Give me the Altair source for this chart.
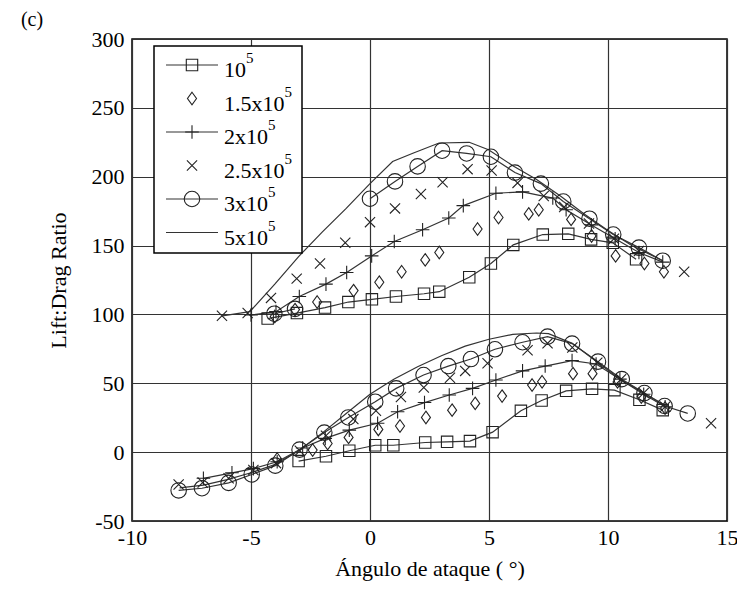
import altair as alt
import pandas as pd

# ---------------- data ----------------
series_keys = ["1e5", "1.5e5", "2e5", "2.5e5", "3e5", "5e5"]
legend_base = ["10", "1.5x10", "2x10", "2.5x10", "3x10", "5x10"]
legend_exp = ["5", "5", "5", "5", "5", "5"]
has_line = [True, False, True, False, True, True]
has_marker = [True, True, True, True, True, False]

# Re = 1e5 (squares, line)
s1_up_x = [-4.3, -3.07, -1.89, -0.91, 0.08, 1.09, 2.27, 2.91, 4.17, 5.08, 6.02, 7.26, 8.33, 9.29, 10.2, 11.18]
s1_up_y = [97, 101, 105, 109, 111, 113, 115, 116.5, 127, 137, 150.5, 158, 158.5, 154.5, 152, 140]
s1_lo_x = [-3.0, -1.85, -0.87, 0.22, 0.98, 2.32, 3.24, 4.2, 5.15, 6.34, 7.21, 8.24, 9.33, 10.27, 11.32, 12.3]
s1_lo_y = [-6.5, -3, 1, 5, 5, 7, 7.5, 8, 14.5, 30, 37.5, 44.5, 46, 45, 38, 30.5]

# Re = 1.5e5 (diamonds)
s2_up_x = [-4.0, -3.15, -2.22, -0.69, 0.39, 1.33, 2.32, 2.91, 4.52, 5.4, 6.67, 7.09, 8.45, 9.31, 10.32, 11.53, 12.35]
s2_up_y = [98.5, 103.5, 109, 117.3, 123.4, 131, 139.6, 145, 162, 170.4, 173, 176, 169, 157, 142.5, 137, 131]
s2_lo_x = [-3.9, -2.41, -1.78, -0.9, 0.35, 1.26, 2.35, 3.45, 4.42, 5.55, 6.81, 7.23, 8.53, 9.35, 10.4, 11.4, 12.4]
s2_lo_y = [-5, 1.5, 6.3, 10.7, 16.5, 19, 25.2, 30.5, 35.4, 40.7, 48.7, 51.1, 57, 57, 51, 40, 32]

# Re = 2e5 (plus, line)
s3_up_x = [-5.0, -3.95, -2.97, -1.85, -0.98, 0.07, 1.02, 2.21, 3.31, 3.92, 5.29, 6.41, 7.68, 8.24, 9.3, 10.3, 11.3, 12.3]
s3_up_y = [99.6, 102, 113, 122, 130.4, 142.5, 153, 161.5, 170, 179, 188, 189, 184.5, 176, 165, 155, 145, 138]
s3_lo_x = [-7.0, -5.8, -4.9, -3.9, -2.83, -1.88, -0.87, 0.32, 1.16, 2.29, 3.33, 4.31, 5.29, 6.41, 7.36, 8.49, 9.5, 10.5, 11.5, 12.4]
s3_lo_y = [-19, -15, -12, -7, 3, 10, 16, 21, 29.3, 36, 41.5, 46.3, 52.4, 59, 62.5, 66.5, 64, 53, 42, 33]

# Re = 2.5e5 (crosses)
s4_up_x = [-6.22, -5.14, -4.16, -3.08, -2.1, -1.04, 0.0, 1.05, 2.14, 3.05, 4.1, 5.11, 6.2, 7.3, 8.16, 9.2, 10.25, 11.3, 13.2]
s4_up_y = [99, 101, 112, 126, 137, 152, 167, 177, 187.5, 196, 205.5, 204.5, 195.5, 186, 178, 166, 155, 146, 131]
s4_lo_x = [-8.04, -7.03, -5.94, -4.9, -3.95, -2.95, -1.85, -0.7, 0.25, 1.3, 2.26, 3.36, 4.0, 4.94, 6.62, 7.46, 8.5, 9.55, 10.55, 11.5, 12.4, 14.33]
s4_lo_y = [-23.5, -22, -19, -13, -8, 1, 12, 24, 30, 40, 47, 54, 59, 64.5, 74, 79, 76, 65, 53, 43, 33, 21]

# Re = 3e5 (circles, line)
s5_upa_x = [-4.02, -3.15]
s5_upa_y = [100.5, 104]
s5_upb_x = [0.0, 1.05, 2.0, 3.03, 4.06, 5.08, 6.09, 7.18, 8.12, 9.22, 10.22, 11.3, 12.3]
s5_upb_y = [184, 196.6, 207.5, 218.9, 216.9, 214.5, 203, 195, 182, 169.5, 158, 148.5, 139]
s5_lo_x = [-8.04, -7.06, -5.94, -4.97, -3.98, -2.96, -1.92, -0.91, 0.22, 1.1, 2.25, 3.29, 4.24, 5.25, 6.41, 7.46, 8.49, 9.58, 10.58, 11.53, 12.38, 13.35]
s5_lo_y = [-27.8, -26.2, -22.3, -16.2, -9.8, 1.8, 14.2, 25.2, 36.6, 46.3, 56, 62.5, 67.6, 74.7, 79.8, 83.9, 78.8, 65.7, 53, 42.9, 33.5, 28.1]

# Re = 5e5 (line only)
s6_up_x = [-6.2, -5.05, -4, -3, -2, -1, 0, 0.95, 1.8, 2.9, 4.17, 4.98, 6, 7, 8, 9, 10, 11, 12.3]
s6_up_y = [99, 102, 122, 142, 160, 177, 195, 211, 217, 224.5, 225, 219.6, 208, 198, 186, 173, 161, 150, 139]
s6_lo_x = [-8, -7, -6, -5, -4, -3, -2, -1, 0, 1, 2, 3, 4, 5, 6, 7, 7.5, 8.5, 9.5, 10.5, 11.5, 12.4]
s6_lo_y = [-26, -24, -20, -15, -9, 1, 14, 28, 42, 53, 62, 70, 77, 82, 85.5, 86.5, 86, 79, 66, 53, 43, 34]

x_ticks = [-10, -5, 0, 5, 10, 15]
y_ticks = [-50, 0, 50, 100, 150, 200, 250, 300]

# ---------------- build tables ----------------
segments = [
    ("1e5", "up", s1_up_x, s1_up_y), ("1e5", "lo", s1_lo_x, s1_lo_y),
    ("1.5e5", "up", s2_up_x, s2_up_y), ("1.5e5", "lo", s2_lo_x, s2_lo_y),
    ("2e5", "up", s3_up_x, s3_up_y), ("2e5", "lo", s3_lo_x, s3_lo_y),
    ("2.5e5", "up", s4_up_x, s4_up_y), ("2.5e5", "lo", s4_lo_x, s4_lo_y),
    ("3e5", "upa", s5_upa_x, s5_upa_y), ("3e5", "upb", s5_upb_x, s5_upb_y),
    ("3e5", "lo", s5_lo_x, s5_lo_y),
    ("5e5", "up", s6_up_x, s6_up_y), ("5e5", "lo", s6_lo_x, s6_lo_y),
]
rows = []
for key, seg, xs_, ys_ in segments:
    i = series_keys.index(key)
    for xv, yv in zip(xs_, ys_):
        rows.append({"series": key, "seg": key + "_" + seg, "x": xv, "y": yv,
                     "line": has_line[i], "marker": has_marker[i]})
df = pd.DataFrame(rows)

X0, X1, Y0, Y1 = -10, 15, -50, 300
W, H = 595, 482

def px2x(p):
    return X0 + p * (X1 - X0) / W

def px2y(p):
    return Y1 - p * (Y1 - Y0) / H

FONT = "Liberation Serif"
INK = "#222222"

marker_keys = [k for k, m in zip(series_keys, has_marker) if m]
shape_scale = alt.Scale(
    domain=marker_keys,
    range=["square",
           "M0,-1L0.72,0L0,1L-0.72,0Z",
           "M-1,0L1,0M0,-1L0,1",
           "M-0.7,-0.7L0.7,0.7M-0.7,0.7L0.7,-0.7",
           "circle"])
size_scale = alt.Scale(domain=marker_keys, range=[130, 240, 150, 150, 215])

xs = alt.Scale(domain=[X0, X1], nice=False, zero=False)
ys = alt.Scale(domain=[Y0, Y1], nice=False, zero=False)

x_enc = alt.X("x:Q", scale=xs, axis=alt.Axis(
    values=x_ticks, grid=True, gridColor="#333333", gridWidth=1.2, ticks=False,
    domain=False, labelFont=FONT, labelFontSize=22, labelColor="black", labelPadding=6,
    labelFlush=False, labelExpr="'' + datum.value",
    title="Ángulo de ataque ( °)", titleFont=FONT, titleFontSize=22,
    titleFontWeight="normal", titleColor="black", titleY=47, titleBaseline="middle"))
y_enc = alt.Y("y:Q", scale=ys, axis=alt.Axis(
    values=y_ticks, grid=True, gridColor="#333333", gridWidth=1.2, ticks=False,
    domain=False, labelFont=FONT, labelFontSize=22, labelColor="black", labelPadding=8,
    labelFlush=False, labelExpr="'' + datum.value",
    title="Lift:Drag Ratio", titleFont=FONT, titleFontSize=22,
    titleFontWeight="normal", titleColor="black", titleAngle=270, titleX=-74, titleY=241,
    titleAlign="center", titleBaseline="middle"))

base = alt.Chart(df)
lines = base.transform_filter("datum.line").mark_line(
    color="#333333", strokeWidth=1.2).encode(
    x=x_enc, y=y_enc, detail="seg:N", order="x:Q")
points = base.transform_filter("datum.marker").mark_point(
    filled=False, color=INK, strokeWidth=1.1, opacity=1).encode(
    x=alt.X("x:Q", scale=xs), y=alt.Y("y:Q", scale=ys),
    shape=alt.Shape("series:N", scale=shape_scale, legend=None),
    size=alt.Size("series:N", scale=size_scale, legend=None))

# ---------------- manual legend (in data coordinates) ----------------
char_w = {"0": 11, "1": 11, "2": 11, "3": 11, "5": 11, ".": 5.5, "x": 11}
leg_rows = []
for i, key in enumerate(series_keys):
    row_px = 26 + i * 33.5
    width = sum(char_w.get(c, 11) for c in legend_base[i])
    leg_rows.append({
        "series": key, "label": legend_base[i], "exp": legend_exp[i],
        "line": has_line[i], "marker": has_marker[i],
        "ly": px2y(row_px), "lx0": px2x(34), "lx1": px2x(86),
        "sx": px2x(60), "tx": px2x(92), "ty": px2y(row_px + 5),
        "ex": px2x(92 + width), "ey": px2y(row_px - 7),
    })
leg = pd.DataFrame(leg_rows)
box = pd.DataFrame([{"x0": px2x(22), "x1": px2x(170), "y0": px2y(7), "y1": px2y(214)}])

leg_box = alt.Chart(box).mark_rect(fill="white", stroke="black", strokeWidth=1.5).encode(
    x=alt.X("x0:Q", scale=xs), x2="x1:Q", y=alt.Y("y0:Q", scale=ys), y2="y1:Q")
lb = alt.Chart(leg)
leg_lines = lb.transform_filter("datum.line").mark_rule(color="#333333", strokeWidth=1.2).encode(
    x=alt.X("lx0:Q", scale=xs), x2="lx1:Q", y=alt.Y("ly:Q", scale=ys))
leg_pts = lb.transform_filter("datum.marker").mark_point(
    filled=False, color=INK, strokeWidth=1.1, opacity=1).encode(
    x=alt.X("sx:Q", scale=xs), y=alt.Y("ly:Q", scale=ys),
    shape=alt.Shape("series:N", scale=shape_scale, legend=None),
    size=alt.Size("series:N", scale=size_scale, legend=None))
leg_txt = lb.mark_text(font=FONT, fontSize=22, align="left", baseline="middle", color="black").encode(
    x=alt.X("tx:Q", scale=xs), y=alt.Y("ty:Q", scale=ys), text="label:N")
leg_exp = lb.mark_text(font=FONT, fontSize=15, align="left", baseline="middle", color="black").encode(
    x=alt.X("ex:Q", scale=xs), y=alt.Y("ey:Q", scale=ys), text="exp:N")

panel_label = alt.Chart(pd.DataFrame([{"t": "(c)"}])).mark_text(
    font=FONT, fontSize=20, align="center", baseline="middle", color="black").encode(
    x=alt.value(-100), y=alt.value(-19), text="t:N")

chart = alt.layer(lines, points, leg_box, leg_lines, leg_pts, leg_txt, leg_exp, panel_label).properties(
    width=W, height=H,
    autosize=alt.AutoSizeParams(type="none"),
    padding={"left": 124, "top": 31, "right": 10, "bottom": 62},
    background="white",
).configure_view(stroke="black", strokeWidth=1.5)

chart.save("out.html", embed_options={"renderer": "svg", "actions": False})
